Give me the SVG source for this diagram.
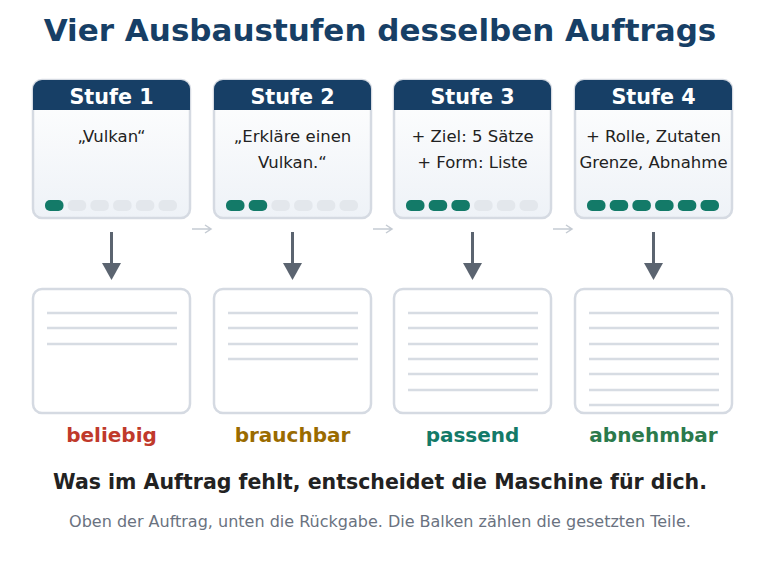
<svg xmlns="http://www.w3.org/2000/svg" width="760" height="570" viewBox="0 0 760 570">
<style>
text{font-family:"DejaVu Sans",sans-serif}
.card{fill:url(#g);stroke:#d5dae2;stroke-width:2.5}
.hd{fill:#173f66}
.ht{fill:#fff;font-weight:bold;font-size:20.7px;text-anchor:middle}
.pt{fill:#222;font-size:16.5px;text-anchor:middle}
.on{fill:#137a68}.off{fill:#e3e7ec}
.out{fill:#fff;stroke:#d5dae2;stroke-width:2.5}
.ln{stroke:#d7dce3;stroke-width:2.5}
.lb{font-weight:bold;font-size:20px;text-anchor:middle}
.dn{stroke:#5b6470;stroke-width:3}
.ah{fill:#5b6470}
.rt{fill:none;stroke:#c5cbd3;stroke-width:1.5}
</style>
<defs>
<linearGradient id="g" x1="0" y1="0" x2="0" y2="1"><stop offset="0" stop-color="#ffffff"/><stop offset="1" stop-color="#eef2f7"/></linearGradient>
</defs>
<rect width="760" height="570" fill="#fff"/>
<text x="380" y="41" text-anchor="middle" font-size="31" font-weight="bold" fill="#173f66">Vier Ausbaustufen desselben Auftrags</text>

<g id="stufe1">
<rect class="card" x="33" y="80" width="157" height="138" rx="9"/>
<path class="hd" d="M33,110 V89 a9,9 0 0 1 9,-9 H181 a9,9 0 0 1 9,9 V110 Z"/>
<text class="ht" x="111.5" y="104">Stufe 1</text>
<text class="pt" x="111.5" y="142">„Vulkan“</text>
<rect class="on" x="45" y="200" width="18.5" height="11" rx="5"/><rect class="off" x="67.7" y="200" width="18.5" height="11" rx="5"/><rect class="off" x="90.4" y="200" width="18.5" height="11" rx="5"/><rect class="off" x="113.1" y="200" width="18.5" height="11" rx="5"/><rect class="off" x="135.8" y="200" width="18.5" height="11" rx="5"/><rect class="off" x="158.5" y="200" width="18.5" height="11" rx="5"/>
</g>
<g id="stufe2">
<rect class="card" x="214" y="80" width="157" height="138" rx="9"/>
<path class="hd" d="M214,110 V89 a9,9 0 0 1 9,-9 H362 a9,9 0 0 1 9,9 V110 Z"/>
<text class="ht" x="292.5" y="104">Stufe 2</text>
<text class="pt" x="292.5" y="142">„Erkläre einen</text>
<text class="pt" x="292.5" y="168">Vulkan.“</text>
<rect class="on" x="226" y="200" width="18.5" height="11" rx="5"/><rect class="on" x="248.7" y="200" width="18.5" height="11" rx="5"/><rect class="off" x="271.4" y="200" width="18.5" height="11" rx="5"/><rect class="off" x="294.1" y="200" width="18.5" height="11" rx="5"/><rect class="off" x="316.8" y="200" width="18.5" height="11" rx="5"/><rect class="off" x="339.5" y="200" width="18.5" height="11" rx="5"/>
</g>
<g id="stufe3">
<rect class="card" x="394" y="80" width="157" height="138" rx="9"/>
<path class="hd" d="M394,110 V89 a9,9 0 0 1 9,-9 H542 a9,9 0 0 1 9,9 V110 Z"/>
<text class="ht" x="472.5" y="104">Stufe 3</text>
<text class="pt" x="472.5" y="142">+ Ziel: 5 Sätze</text>
<text class="pt" x="472.5" y="168">+ Form: Liste</text>
<rect class="on" x="406" y="200" width="18.5" height="11" rx="5"/><rect class="on" x="428.7" y="200" width="18.5" height="11" rx="5"/><rect class="on" x="451.4" y="200" width="18.5" height="11" rx="5"/><rect class="off" x="474.1" y="200" width="18.5" height="11" rx="5"/><rect class="off" x="496.8" y="200" width="18.5" height="11" rx="5"/><rect class="off" x="519.5" y="200" width="18.5" height="11" rx="5"/>
</g>
<g id="stufe4">
<rect class="card" x="575" y="80" width="157" height="138" rx="9"/>
<path class="hd" d="M575,110 V89 a9,9 0 0 1 9,-9 H723 a9,9 0 0 1 9,9 V110 Z"/>
<text class="ht" x="653.5" y="104">Stufe 4</text>
<text class="pt" x="653.5" y="142" font-size="15.3">+ Rolle, Zutaten</text>
<text class="pt" x="653.5" y="168" font-size="15.3">Grenze, Abnahme</text>
<rect class="on" x="587" y="200" width="18.5" height="11" rx="5"/><rect class="on" x="609.7" y="200" width="18.5" height="11" rx="5"/><rect class="on" x="632.4" y="200" width="18.5" height="11" rx="5"/><rect class="on" x="655.1" y="200" width="18.5" height="11" rx="5"/><rect class="on" x="677.8" y="200" width="18.5" height="11" rx="5"/><rect class="on" x="700.5" y="200" width="18.5" height="11" rx="5"/>
</g>

<g id="out1">
<rect class="out" x="33" y="289" width="157" height="124" rx="9"/>
<path class="ln" d="M47,313H177M47,328H177M47,344H177"/>
</g>
<g id="out2">
<rect class="out" x="214" y="289" width="157" height="124" rx="9"/>
<path class="ln" d="M228,313H358M228,328H358M228,344H358M228,359H358"/>
</g>
<g id="out3">
<rect class="out" x="394" y="289" width="157" height="124" rx="9"/>
<path class="ln" d="M408,313H538M408,328H538M408,344H538M408,359H538M408,374H538M408,390H538"/>
</g>
<g id="out4">
<rect class="out" x="575" y="289" width="157" height="124" rx="9"/>
<path class="ln" d="M589,313H719M589,328H719M589,344H719M589,359H719M589,374H719M589,390H719M589,405H719"/>
</g>

<g id="connectors">
<path class="dn" d="M111.5,232V265"/><path class="ah" d="M102,263H121L111.5,280Z"/>
<path class="dn" d="M292.5,232V265"/><path class="ah" d="M283,263H302L292.5,280Z"/>
<path class="dn" d="M472.5,232V265"/><path class="ah" d="M463,263H482L472.5,280Z"/>
<path class="dn" d="M653.5,232V265"/><path class="ah" d="M644,263H663L653.5,280Z"/>
<path class="rt" d="M192,229H211M205,225L211,229L205,233"/>
<path class="rt" d="M373,229H392M386,225L392,229L386,233"/>
<path class="rt" d="M553,229H572M566,225L572,229L566,233"/>
</g>

<text class="lb" x="111.5" y="442" fill="#c0392b">beliebig</text>
<text class="lb" x="292.5" y="442" fill="#9a6b00">brauchbar</text>
<text class="lb" x="472.5" y="442" fill="#137a68">passend</text>
<text class="lb" x="653.5" y="442" fill="#2b7a4b">abnehmbar</text>
<text x="380" y="489" text-anchor="middle" font-size="20.5" font-weight="bold" fill="#222">Was im Auftrag fehlt, entscheidet die Maschine für dich.</text>
<text x="380" y="527" text-anchor="middle" font-size="16" fill="#6a7280">Oben der Auftrag, unten die Rückgabe. Die Balken zählen die gesetzten Teile.</text>
</svg>
